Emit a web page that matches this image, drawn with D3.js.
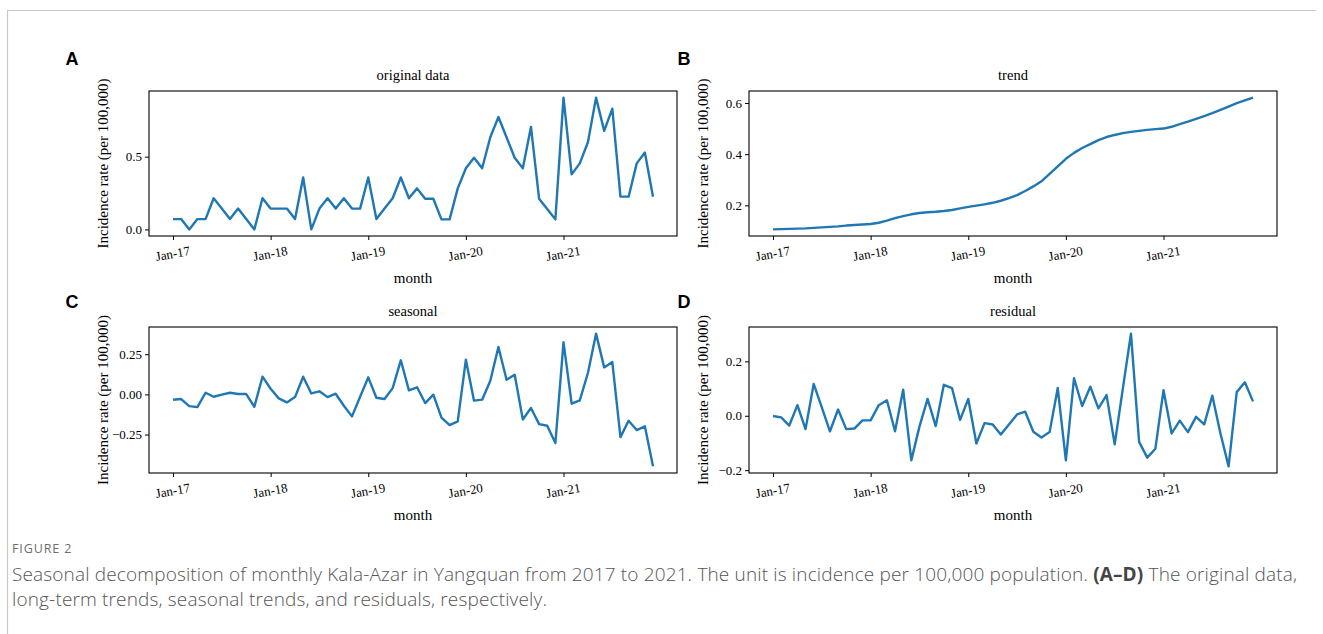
<!DOCTYPE html>
<html><head><meta charset="utf-8">
<script src="https://cdn.jsdelivr.net/npm/d3@7"></script>
<style>
body{margin:0;background:#fff;}
svg{display:block;}
</style></head>
<body>
<svg id="chart" width="1323" height="634"></svg>
<script>
// ---- data ----
const months = d3.range(60); // Jan-17 .. Dec-21
const xTickIdx = [0, 12, 24, 36, 48];
const xTickLabels = ["Jan-17", "Jan-18", "Jan-19", "Jan-20", "Jan-21"];

const original = [0.071,0.071,0,0.071,0.071,0.214,0.143,0.071,0.143,0.071,0,0.214,
  0.143,0.143,0.143,0.071,0.357,0,0.143,0.214,0.143,0.214,0.143,0.143,
  0.357,0.071,0.143,0.214,0.357,0.214,0.282,0.211,0.211,0.069,0.069,0.282,
  0.42,0.493,0.42,0.633,0.773,0.633,0.493,0.42,0.704,0.211,0.14,0.069,
  0.906,0.378,0.454,0.599,0.906,0.677,0.83,0.225,0.225,0.454,0.528,0.225];

const trend = [0.106,0.107,0.108,0.109,0.110,0.112,0.114,0.116,0.118,0.121,0.123,0.125,
  0.127,0.132,0.140,0.150,0.158,0.165,0.170,0.173,0.175,0.178,0.182,0.188,
  0.194,0.199,0.204,0.210,0.218,0.228,0.240,0.256,0.274,0.294,0.323,0.352,
  0.382,0.405,0.424,0.439,0.455,0.467,0.475,0.482,0.487,0.491,0.495,0.498,
  0.500,0.507,0.517,0.527,0.538,0.549,0.560,0.573,0.586,0.599,0.610,0.621];

const seasonal = [-0.033,-0.029,-0.073,-0.079,0.010,-0.015,-0.002,0.010,0.002,0.002,-0.077,0.110,
  0.035,-0.025,-0.050,-0.017,0.110,0.006,0.019,-0.017,0.004,-0.071,-0.137,-0.015,
  0.106,-0.021,-0.029,0.039,0.212,0.025,0.044,-0.054,-0.002,-0.145,-0.191,-0.168,
  0.216,-0.039,-0.033,0.085,0.295,0.091,0.122,-0.156,-0.085,-0.185,-0.195,-0.303,
  0.324,-0.058,-0.037,0.133,0.378,0.168,0.201,-0.266,-0.164,-0.222,-0.199,-0.448];

const residual = [-0.001,-0.006,-0.036,0.039,-0.049,0.117,0.031,-0.057,0.023,-0.049,-0.047,-0.017,
  -0.017,0.039,0.057,-0.057,0.096,-0.164,-0.040,0.062,-0.038,0.114,0.102,-0.015,
  0.062,-0.102,-0.027,-0.032,-0.069,-0.032,0.005,0.015,-0.059,-0.080,-0.060,0.102,
  -0.164,0.138,0.036,0.107,0.027,0.076,-0.105,0.100,0.302,-0.096,-0.154,-0.121,
  0.094,-0.065,-0.018,-0.060,-0.004,-0.032,0.074,-0.065,-0.186,0.087,0.123,0.053];

const panelLetters = ["A", "B", "C", "D"];
const panelTitles = ["original data", "trend", "seasonal", "residual"];
const yTicksA = [0, 0.5];
const yTicksB = [0.2, 0.4, 0.6];
const yTicksC = [-0.25, 0, 0.25];
const yTicksD = [-0.2, 0, 0.2];
const yLabel = "Incidence rate (per 100,000)";
const xLabel = "month";

// ---- layout ----
const svg = d3.select("#chart");
const panels = [
  {data: original, ticks: yTicksA, fmt: d3.format(".1f"), l:149, r:677, t:91, b:236, lx:72, ly:65},
  {data: trend,    ticks: yTicksB, fmt: d3.format(".1f"), l:749, r:1277, t:91, b:236, lx:684, ly:65},
  {data: seasonal, ticks: yTicksC, fmt: d3.format(".2f"), l:149, r:677, t:327, b:473, lx:72, ly:308},
  {data: residual, ticks: yTicksD, fmt: d3.format(".1f"), l:749, r:1277, t:327, b:473, lx:684, ly:308}
];

// frame
svg.append("line").attr("x1",7.5).attr("x2",1316).attr("y1",10.5).attr("y2",10.5)
  .attr("stroke","#c8c8c8").attr("stroke-width",1.2);
svg.append("line").attr("x1",7.5).attr("x2",7.5).attr("y1",10).attr("y2",634)
  .attr("stroke","#c8c8c8").attr("stroke-width",1.2);

const serif = "'Liberation Serif','Times New Roman',serif";

panels.forEach((p, k) => {
  const x = d3.scaleLinear().domain([-2.95, 61.95]).range([p.l, p.r]);
  const [mn, mx] = d3.extent(p.data);
  const pad = (mx - mn) * 0.05;
  const y = d3.scaleLinear().domain([mn - pad, mx + pad]).range([p.b, p.t]);
  const g = svg.append("g");

  // x axis
  const xa = g.append("g").attr("transform", `translate(0,${p.b})`)
    .call(d3.axisBottom(x).tickValues(xTickIdx).tickSize(4).tickSizeOuter(0)
      .tickFormat((d,i) => xTickLabels[i]));
  xa.select(".domain").remove();
  xa.selectAll(".tick line").attr("stroke","#000").attr("stroke-width",1);
  xa.selectAll(".tick text").attr("font-family", serif).attr("font-size", 13)
    .attr("fill","#000").attr("dy", null).attr("y", 0)
    .attr("text-anchor","middle")
    .attr("transform","translate(0,22) rotate(-10)");

  // y axis
  const ya = g.append("g").attr("transform", `translate(${p.l},0)`)
    .call(d3.axisLeft(y).tickValues(p.ticks).tickSize(4).tickSizeOuter(0)
      .tickFormat(d => p.fmt(d).replace("-", "\u2212")));
  ya.select(".domain").remove();
  ya.selectAll(".tick line").attr("stroke","#000").attr("stroke-width",1);
  ya.selectAll(".tick text").attr("font-family", serif).attr("font-size", 13)
    .attr("fill","#000").attr("x", -7);

  // line
  g.append("path").datum(p.data)
    .attr("fill","none").attr("stroke","#1f77b4").attr("stroke-width",2.4)
    .attr("stroke-linejoin","round")
    .attr("d", d3.line().x((d,i) => x(months[i])).y(d => y(d)));

  // frame
  g.append("rect").attr("x", p.l).attr("y", p.t).attr("width", p.r - p.l).attr("height", p.b - p.t)
    .attr("fill","none").attr("stroke","#000").attr("stroke-width",1.1);

  // title
  g.append("text").attr("x", (p.l + p.r)/2).attr("y", p.t - 11).attr("text-anchor","middle")
    .attr("font-family", serif).attr("font-size", 14.5).text(panelTitles[k]);
  // x label
  g.append("text").attr("x", (p.l + p.r)/2).attr("y", p.b + 47).attr("text-anchor","middle")
    .attr("font-family", serif).attr("font-size", 15).text(xLabel);
  // y label
  g.append("text").attr("transform", `translate(${p.l - 41},${(p.t + p.b)/2}) rotate(-90)`)
    .attr("text-anchor","middle").attr("font-family", serif).attr("font-size", 15).text(yLabel);
  // letter
  g.append("text").attr("x", p.lx).attr("y", p.ly).attr("text-anchor","middle")
    .attr("font-family","'Liberation Sans',Arial,sans-serif").attr("font-weight","bold")
    .attr("font-size", 18).text(panelLetters[k]);
});

// caption
const capFont = "'Open Sans','Noto Sans',sans-serif";
svg.append("text").attr("x", 12).attr("y", 553).attr("font-family", capFont)
  .attr("font-size", 12.5).attr("letter-spacing", 0.9).attr("fill","#6e6e6e").text("FIGURE 2");
const cap1 = svg.append("text").attr("x", 12).attr("y", 581).attr("font-family", capFont)
  .attr("font-size", 19).attr("letter-spacing", 0.15).attr("font-weight", 300).attr("fill","#555");
cap1.append("tspan").text("Seasonal decomposition of monthly Kala-Azar in Yangquan from 2017 to 2021. The unit is incidence per 100,000 population. ");
cap1.append("tspan").attr("font-weight","bold").attr("fill","#444").text("(A\u2013D)");
cap1.append("tspan").text(" The original data,");
svg.append("text").attr("x", 12).attr("y", 606).attr("font-family", capFont)
  .attr("font-size", 19).attr("letter-spacing", 0.15).attr("font-weight", 300).attr("fill","#555")
  .text("long-term trends, seasonal trends, and residuals, respectively.");
</script>
</body></html>
